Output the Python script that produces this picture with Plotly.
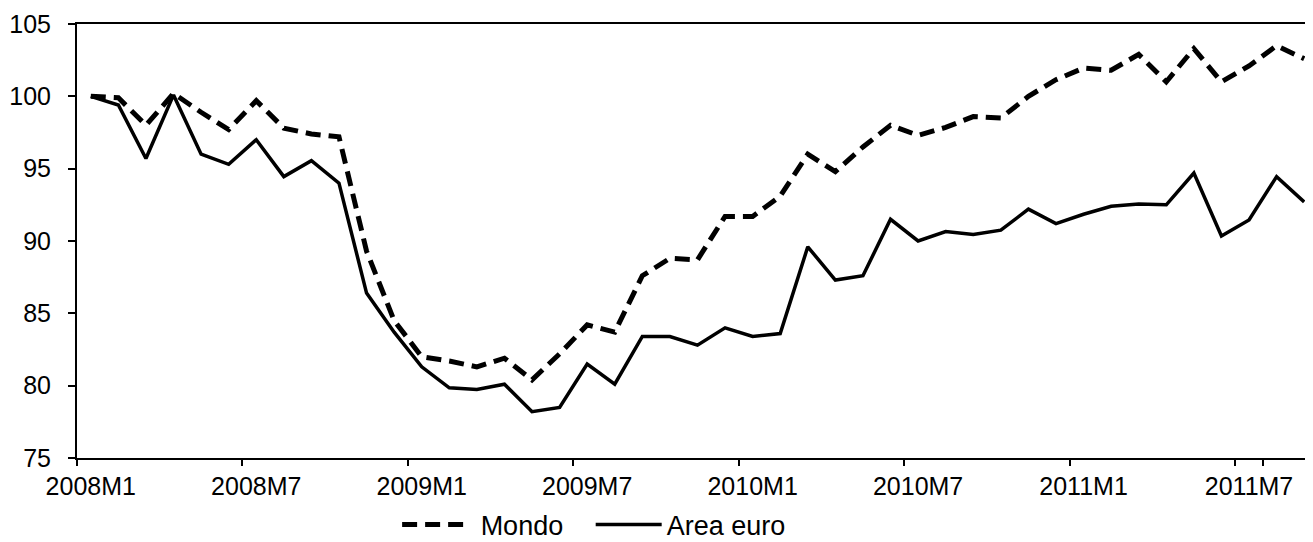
import plotly.graph_objects as go

# Monthly categories 2008M1 .. 2011M9
months = [f"{y}M{m}" for y in (2008, 2009, 2010, 2011) for m in range(1, 13)][:45]
tick_labels = ["2008M1", "2008M7", "2009M1", "2009M7", "2010M1", "2010M7", "2011M1", "2011M7"]

mondo = [100.0, 99.9, 98.0, 100.2, 98.9, 97.7, 99.7, 97.8, 97.4, 97.2,
         89.3, 84.5, 82.0, 81.7, 81.3, 81.9, 80.4, 82.2, 84.2, 83.7,
         87.6, 88.8, 88.7, 91.7, 91.7, 93.1, 96.0, 94.8, 96.5, 98.0,
         97.3, 97.85, 98.6, 98.5, 100.0, 101.15, 101.95, 101.8, 102.9, 101.0,
         103.3, 101.0, 102.1, 103.5, 102.6]

area_euro = [100.0, 99.4, 95.7, 100.1, 96.0, 95.3, 97.0, 94.45, 95.55, 94.0,
             86.4, 83.7, 81.3, 79.85, 79.74, 80.1, 78.2, 78.5, 81.5, 80.1,
             83.4, 83.4, 82.8, 84.0, 83.4, 83.6, 89.6, 87.3, 87.6, 91.5,
             90.0, 90.65, 90.45, 90.75, 92.2, 91.2, 91.85, 92.4, 92.55, 92.5,
             94.7, 90.35, 91.45, 94.45, 92.7]

FONT = "Liberation Sans, Arial, sans-serif"
NB = "\u00a0"

fig = go.Figure()
fig.add_trace(go.Scatter(x=months, y=mondo, mode="lines", name=NB + "Mondo" + NB * 3,
                         line=dict(color="black", width=5, dash="15px,8px")))
fig.add_trace(go.Scatter(x=months, y=area_euro, mode="lines", name="Area euro",
                         line=dict(color="black", width=3.5)))

# page body has an 8px margin, so the figure is sized to end at the window edge
fig.update_layout(
    width=1305, height=534,
    margin=dict(l=69, r=0, t=16, b=84, autoexpand=False),
    paper_bgcolor="white", plot_bgcolor="white",
    font=dict(family=FONT, size=25, color="black"),
    showlegend=True,
    legend=dict(orientation="h", x=0.259, xanchor="left", y=-0.154, yanchor="middle",
                font=dict(family=FONT, size=27, color="black"),
                itemwidth=66, traceorder="normal",
                bgcolor="rgba(0,0,0,0)"),
)

fig.update_xaxes(
    type="category", categoryorder="array", categoryarray=months,
    range=[-0.5, 44.32], automargin=False,
    tickmode="array", tickvals=tick_labels, ticktext=tick_labels,
    tickson="boundaries", tickangle=0,
    ticks="outside", ticklen=6, tickwidth=1.5, tickcolor="black",
    showline=True, linecolor="black", linewidth=2, mirror=True,
    showgrid=False, zeroline=False,
    tickfont=dict(family=FONT, size=25, color="black"),
    ticklabelstandoff=5,
)
fig.update_yaxes(
    range=[75, 105], tickmode="linear", tick0=75, dtick=5, automargin=False,
    ticks="outside", ticklen=7, tickwidth=1.5, tickcolor="black",
    showline=True, linecolor="black", linewidth=2,
    showgrid=False, zeroline=False,
    tickfont=dict(family=FONT, size=25, color="black"),
    ticklabelstandoff=12,
)

fig.write_html("out.html")
